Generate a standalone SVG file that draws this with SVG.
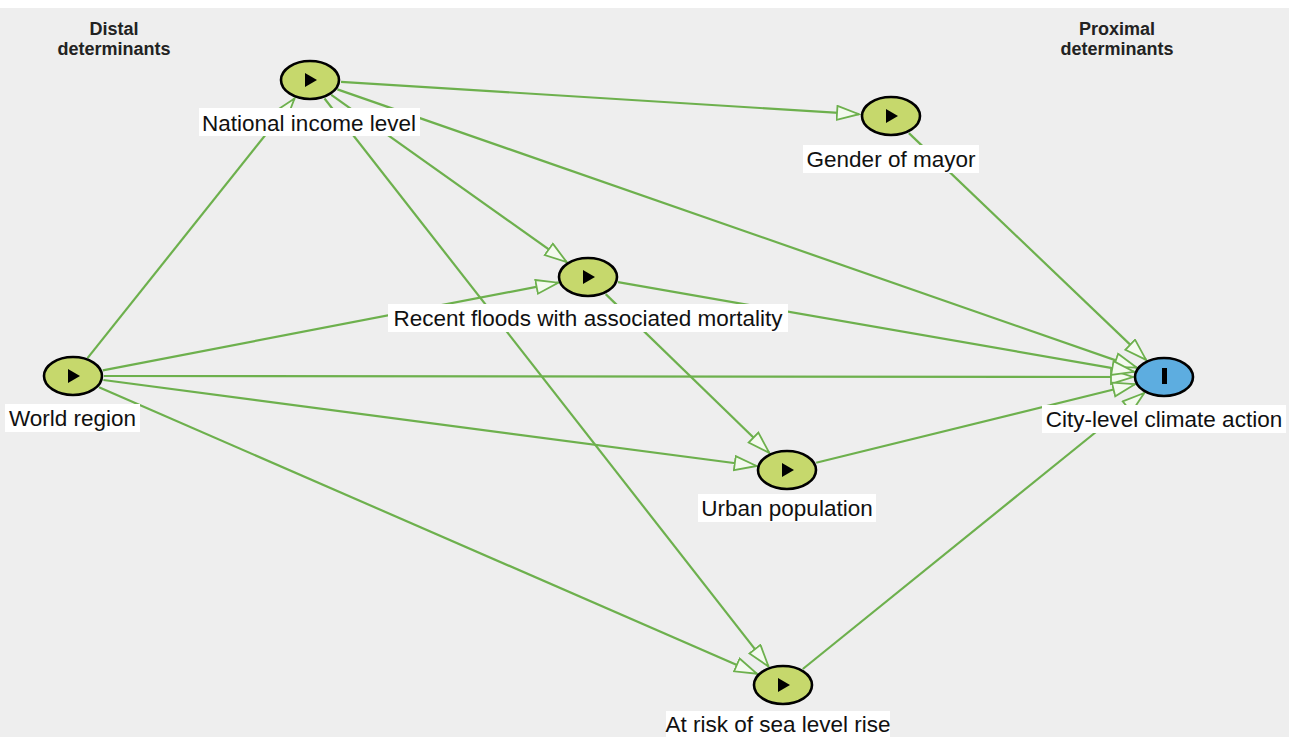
<svg xmlns="http://www.w3.org/2000/svg" width="1289" height="737" viewBox="0 0 1289 737">
<defs>
<style>
.bg{fill:#eeeeee}
.edge{fill:none;stroke:#6db04d;stroke-width:2.2;marker-end:url(#arr)}
.node{fill:#c6d86c;stroke:#000;stroke-width:2.6}
.out{fill:#5dade0;stroke:#000;stroke-width:2.6}
.icon{fill:#000}
.lbl{font-family:"Liberation Sans",Arial,sans-serif;font-size:22.5px;fill:#111;text-anchor:middle}
.lblbg{fill:#ffffff}
.head{font-family:"Liberation Sans",Arial,sans-serif;font-size:18px;font-weight:bold;fill:#222;text-anchor:middle}
</style>
<marker id="arr" markerUnits="userSpaceOnUse" markerWidth="26" markerHeight="18" refX="23" refY="8" orient="auto">
<path d="M1,1 L23,8 L1,15 Z" fill="#f4faef" stroke="#6db04d" stroke-width="1.8"/>
</marker>
</defs>
<rect x="0" y="0" width="1289" height="737" fill="#ffffff"/>
<rect class="bg" x="0" y="8" width="1289" height="729"/>
<g id="headings">
<text class="head" x="114" y="35">Distal</text>
<text class="head" x="114" y="55">determinants</text>
<text class="head" x="1117" y="35">Proximal</text>
<text class="head" x="1117" y="55">determinants</text>
</g>
<g id="connectors">
<line class="edge" x1="87.5" y1="358.1" x2="294.5" y2="98.5"/>
<line class="edge" x1="341" y1="81.8" x2="859" y2="114.2"/>
<line class="edge" x1="337.4" y1="89.4" x2="1136.6" y2="367.6"/>
<line class="edge" x1="331.3" y1="94.9" x2="566.7" y2="262.1"/>
<line class="edge" x1="324.5" y1="98.5" x2="768.5" y2="666.5"/>
<line class="edge" x1="102.8" y1="370.3" x2="558.2" y2="282.7"/>
<line class="edge" x1="104" y1="376" x2="1133" y2="377"/>
<line class="edge" x1="103.4" y1="380" x2="756.6" y2="466"/>
<line class="edge" x1="99" y1="387.3" x2="757" y2="673.7"/>
<line class="edge" x1="618" y1="282.2" x2="1134" y2="371.8"/>
<line class="edge" x1="605.7" y1="294.1" x2="769.3" y2="452.9"/>
<line class="edge" x1="908.9" y1="133.1" x2="1146.1" y2="359.9"/>
<line class="edge" x1="816.1" y1="462.8" x2="1134.9" y2="384.2"/>
<line class="edge" x1="802.8" y1="669" x2="1144.2" y2="393"/>
</g>
<g id="node-national">
<ellipse class="node" cx="310" cy="80" rx="29" ry="19"/>
<polygon class="icon" points="305,73 317,80 305,87"/>
<rect class="lblbg" x="199" y="108" width="221" height="28"/>
<text class="lbl" x="309" y="131">National income level</text>
</g>
<g id="node-gender">
<ellipse class="node" cx="891" cy="116" rx="29" ry="19"/>
<polygon class="icon" points="886,109 898,116 886,123"/>
<rect class="lblbg" x="803" y="145" width="176" height="28"/>
<text class="lbl" x="891" y="167">Gender of mayor</text>
</g>
<g id="node-floods">
<ellipse class="node" cx="588" cy="277" rx="29" ry="19"/>
<polygon class="icon" points="583,270 595,277 583,284"/>
<rect class="lblbg" x="388" y="304" width="400" height="28"/>
<text class="lbl" x="588" y="326">Recent floods with associated mortality</text>
</g>
<g id="node-world">
<ellipse class="node" cx="73" cy="376" rx="29" ry="19"/>
<polygon class="icon" points="68,369 80,376 68,383"/>
<rect class="lblbg" x="5" y="404" width="135" height="28"/>
<text class="lbl" x="72.5" y="426">World region</text>
</g>
<g id="node-city">
<ellipse class="out" cx="1164" cy="377" rx="29" ry="19"/>
<rect class="icon" x="1162" y="368" width="5" height="16"/>
<rect class="lblbg" x="1042" y="405" width="244" height="28"/>
<text class="lbl" x="1164" y="427">City-level climate action</text>
</g>
<g id="node-urban">
<ellipse class="node" cx="787" cy="470" rx="29" ry="19"/>
<polygon class="icon" points="782,463 794,470 782,477"/>
<rect class="lblbg" x="698" y="494" width="178" height="28"/>
<text class="lbl" x="787" y="516">Urban population</text>
</g>
<g id="node-risk">
<ellipse class="node" cx="783" cy="685" rx="29" ry="19"/>
<polygon class="icon" points="778,678 790,685 778,692"/>
<rect class="lblbg" x="666" y="711" width="224" height="26"/>
<text class="lbl" x="778" y="732">At risk of sea level rise</text>
</g>
</svg>
